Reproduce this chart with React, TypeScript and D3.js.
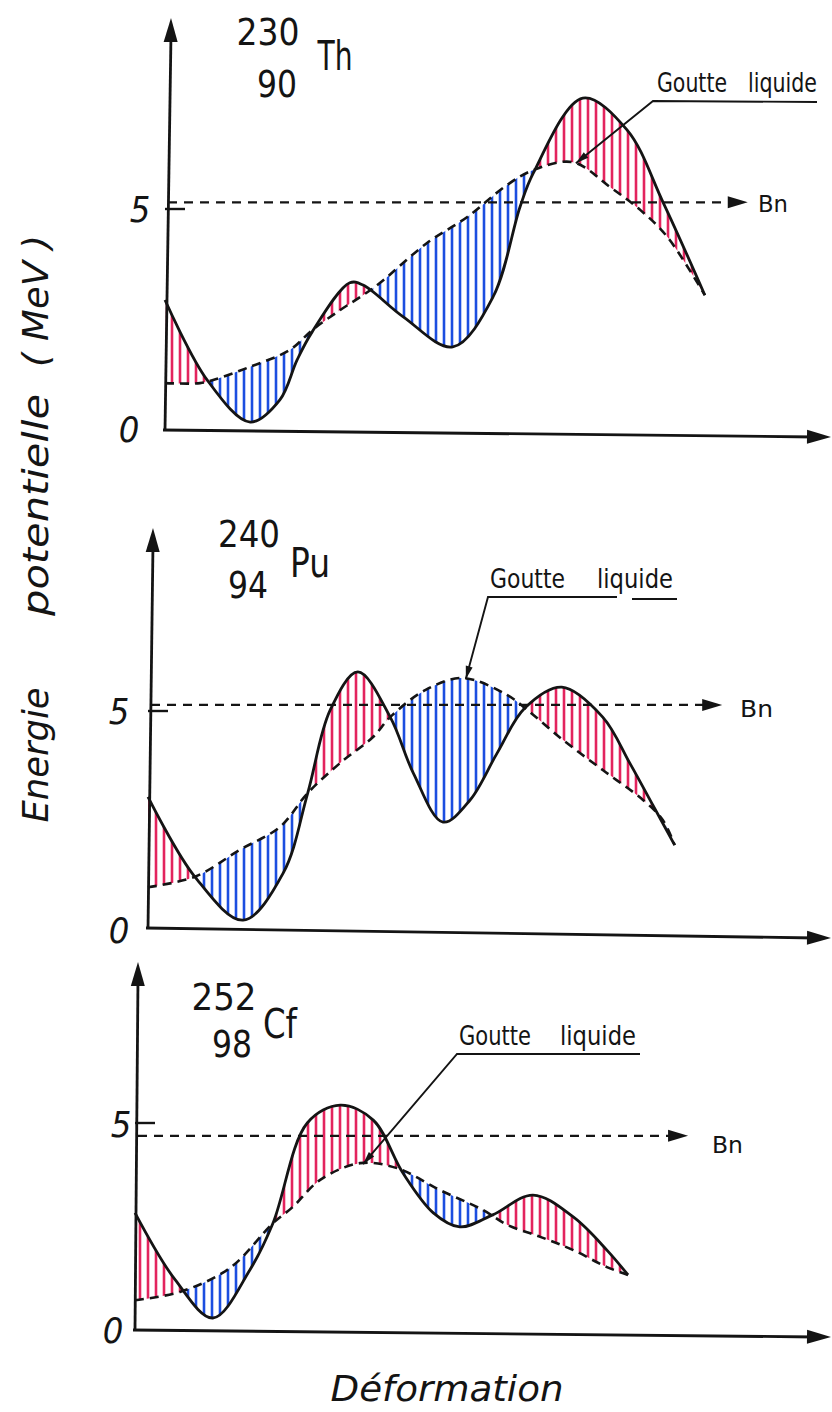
import * as d3 from 'd3';

// ---- data (deformation in arbitrary units, energy in MeV) ----

// 230/90 Th
const thShellX = [0, 0.64, 1.29, 1.74, 2.0, 2.23, 2.8, 3.0, 3.61, 4.36, 4.97, 5.38, 5.58, 6.33, 7.0, 7.55, 8.18];
const thShellE = [2.94, 1.13, 0.18, 0.68, 1.58, 2.22, 3.33, 3.28, 2.56, 1.88, 3.01, 5.05, 5.81, 7.51, 6.79, 5.14, 3.05];
const thDropX = [0, 0.53, 0.73, 1.29, 1.89, 2.23, 2.65, 3.0, 3.26, 3.97, 4.58, 5.18, 5.58, 6.18, 6.74, 7.2, 7.61, 8.18];
const thDropE = [1.06, 1.06, 1.13, 1.43, 1.81, 2.26, 2.71, 3.05, 3.33, 4.23, 4.82, 5.54, 5.88, 6.06, 5.5, 4.98, 4.37, 3.05];

// 240/94 Pu
const puShellX = [0, 0.71, 1.44, 2.05, 2.42, 2.76, 3.18, 3.67, 4.02, 4.47, 4.88, 5.29, 5.71, 6.27, 6.89, 7.3, 7.65, 7.98];
const puShellE = [3.02, 1.18, 0.18, 1.27, 3.11, 5.02, 5.9, 4.86, 3.57, 2.44, 2.95, 4.03, 5.07, 5.55, 4.86, 3.8, 2.83, 1.91];
const puDropX = [0, 0.71, 1.39, 2.0, 2.42, 2.91, 3.41, 3.67, 4.2, 4.77, 5.44, 5.71, 6.29, 6.89, 7.5, 7.8, 7.98];
const puDropE = [0.94, 1.18, 1.8, 2.33, 3.11, 3.8, 4.4, 4.86, 5.48, 5.76, 5.37, 5.07, 4.33, 3.64, 2.95, 2.49, 1.91];

// 252/98 Cf
const cfShellX = [0, 0.61, 1.18, 1.74, 2.09, 2.61, 3.11, 3.61, 4.06, 4.52, 4.92, 5.42, 6.03, 6.64, 7.15, 7.47];
const cfShellE = [2.83, 1.21, 0.29, 1.45, 2.58, 5.0, 5.43, 5.07, 3.79, 2.83, 2.49, 2.78, 3.26, 2.73, 1.93, 1.33];
const cfDropX = [0, 0.68, 1.44, 2.09, 2.39, 2.8, 3.41, 3.97, 4.62, 5.27, 5.64, 6.14, 6.64, 7.15, 7.47];
const cfDropE = [0.72, 0.92, 1.5, 2.58, 2.97, 3.62, 4.03, 3.91, 3.38, 2.9, 2.54, 2.25, 1.93, 1.52, 1.33];

// neutron binding energy Bn (MeV) per nucleus
const bnValues = [5.15, 5.14, 4.69];
const bnArrowEnd = [8.83, 8.7, 8.38];

const masses = ['230', '240', '252'];
const charges = ['90', '94', '98'];
const symbols = ['Th', 'Pu', 'Cf'];
const yTicks = [0, 5];

const PINK = '#e3245e';
const BLUE = '#1c4ee0';
const INK = '#141414';

// page layout of the three stacked panels (pixels)
const layouts = [
  {
    left: 165, base: 430, k: 44.2, topY: 18, rightX: 831, tilt: 7, lean: 6,
    mass: [268, 45, 63], z: [277, 97, 40], sym: [335, 70, 35],
    goutte: [[657, 92, 70], [748, 92, 69]], under: [[817, 102], [653, 101]], under2: null,
    bnLabel: [758, 212, 30], zero: [129, 442], five: [140, 222],
  },
  {
    left: 148, base: 928, k: 43.4, topY: 528, rightX: 831, tilt: 10, lean: 5,
    mass: [249, 547, 62], z: [248, 598, 40], sym: [310, 577, 40],
    goutte: [[490, 588, 75], [597, 588, 76]], under: [[617, 597], [488, 597]], under2: [[632, 599], [677, 599]],
    bnLabel: [740, 717, 33], zero: [119, 943], five: [119, 724],
  },
  {
    left: 135, base: 1330, k: 41.4, topY: 962, rightX: 831, tilt: 7, lean: 3,
    mass: [224, 1010, 65], z: [232, 1057, 40], sym: [280, 1038, 34],
    goutte: [[459, 1045, 72], [560, 1045, 76]], under: [[640, 1054], [457, 1054]], under2: null,
    bnLabel: [712, 1153, 31], zero: [113, 1343], five: [121, 1137],
  },
];

const series = [
  { shellX: thShellX, shellE: thShellE, dropX: thDropX, dropE: thDropE },
  { shellX: puShellX, shellE: puShellE, dropX: puDropX, dropE: puDropE },
  { shellX: cfShellX, shellE: cfShellE, dropX: cfDropX, dropE: cfDropE },
];

const arrowHead = (tx: number, ty: number, fx: number, fy: number, len: number, half: number) => {
  const dx = tx - fx;
  const dy = ty - fy;
  const n = Math.hypot(dx, dy) || 1;
  const ux = dx / n;
  const uy = dy / n;
  const bx = tx - ux * len;
  const by = ty - uy * len;
  return `M${tx},${ty}L${bx - uy * half},${by + ux * half}L${bx + uy * half},${by - ux * half}Z`;
};

const Panel = ({ i }: { i: number }) => {
  const L = layouts[i];
  const s = series[i];
  const x = d3.scaleLinear().domain([0, 10]).range([L.left, L.left + 660]);
  const y = d3.scaleLinear().domain([0, 5]).range([L.base, L.base - 5 * L.k]);

  const line = d3
    .line<[number, number]>()
    .x((d) => x(d[0]))
    .y((d) => y(d[1]))
    .curve(d3.curveCatmullRom.alpha(0.5));

  const shell: [number, number][] = s.shellX.map((v, j) => [v, s.shellE[j]]);
  const drop: [number, number][] = s.dropX.map((v, j) => [v, s.dropE[j]]);
  const shellPath = line(shell) || '';
  const dropPath = line(drop) || '';

  const x0 = x(shell[0][0]);
  const x1 = x(shell[shell.length - 1][0]);
  const top = L.topY;
  const bottom = L.base + 20;
  const close = (p: string, yy: number) => `${p}L${x1},${yy}L${x0},${yy}Z`;

  // leader arrow of "Goutte liquide" points at the liquid-drop maximum
  const peakIdx = d3.maxIndex(s.dropE);
  const tip: [number, number] = [x(s.dropX[peakIdx]) + 3, y(s.dropE[peakIdx]) + 1];
  const [ux, uy] = L.under[1];

  const axTopX = L.left + L.lean;
  const axEndY = L.base + L.tilt;
  const bnY = y(bnValues[i]);
  const bnEndX = x(bnArrowEnd[i]);

  return (
    <g>
      <defs>
        <clipPath id={`above-drop-${i}`}>
          <path d={close(dropPath, top)} />
        </clipPath>
        <clipPath id={`below-drop-${i}`}>
          <path d={close(dropPath, bottom)} />
        </clipPath>
      </defs>

      {/* hatched differences: shell correction positive (pink) / negative (blue) */}
      <path d={close(shellPath, bottom)} fill="url(#hatch-pink)" clipPath={`url(#above-drop-${i})`} />
      <path d={close(shellPath, top)} fill="url(#hatch-blue)" clipPath={`url(#below-drop-${i})`} />

      {/* liquid drop (dashed) and total potential (solid) */}
      <path d={dropPath} fill="none" stroke={INK} strokeWidth={2.6} strokeDasharray="9 6" />
      <path d={shellPath} fill="none" stroke={INK} strokeWidth={2.8} />

      {/* Bn level */}
      <line x1={L.left + 3} y1={bnY} x2={bnEndX - 14} y2={bnY} stroke={INK} strokeWidth={2.4} strokeDasharray="9 7" />
      <path d={arrowHead(bnEndX, bnY, L.left, bnY, 20, 6)} fill={INK} />
      <text x={L.bnLabel[0]} y={L.bnLabel[1]} fontSize={23} textLength={L.bnLabel[2]} lengthAdjust="spacingAndGlyphs" fill={INK}>
        Bn
      </text>

      {/* axes */}
      <line x1={L.left - 2} y1={L.base} x2={L.rightX - 16} y2={axEndY} stroke={INK} strokeWidth={2.8} />
      <path d={arrowHead(L.rightX, axEndY, L.left, L.base, 24, 7)} fill={INK} />
      <line x1={L.left} y1={L.base + 1} x2={axTopX} y2={top + 16} stroke={INK} strokeWidth={2.8} />
      <path d={arrowHead(axTopX, top, L.left, L.base, 24, 7)} fill={INK} />
      {yTicks
        .filter((t) => t > 0)
        .map((t) => (
          <line key={t} x1={L.left} y1={y(t)} x2={L.left + 20} y2={y(t)} stroke={INK} strokeWidth={2.4} />
        ))}
      <text x={L.zero[0]} y={L.zero[1]} fontSize={36} fontStyle="italic" textAnchor="middle" fill={INK}>
        {yTicks[0]}
      </text>
      <text x={L.five[0]} y={L.five[1]} fontSize={36} fontStyle="italic" textAnchor="middle" fill={INK}>
        {yTicks[1]}
      </text>

      {/* nucleus label */}
      <text x={L.mass[0]} y={L.mass[1]} fontSize={38} textAnchor="middle" textLength={L.mass[2]} lengthAdjust="spacingAndGlyphs" fill={INK}>
        {masses[i]}
      </text>
      <text x={L.z[0]} y={L.z[1]} fontSize={38} textAnchor="middle" textLength={L.z[2]} lengthAdjust="spacingAndGlyphs" fill={INK}>
        {charges[i]}
      </text>
      <text x={L.sym[0]} y={L.sym[1]} fontSize={40} textAnchor="middle" textLength={L.sym[2]} lengthAdjust="spacingAndGlyphs" fill={INK}>
        {symbols[i]}
      </text>

      {/* Goutte liquide annotation */}
      <text x={L.goutte[0][0]} y={L.goutte[0][1]} fontSize={27} textLength={L.goutte[0][2]} lengthAdjust="spacingAndGlyphs" fill={INK}>
        Goutte
      </text>
      <text x={L.goutte[1][0]} y={L.goutte[1][1]} fontSize={27} textLength={L.goutte[1][2]} lengthAdjust="spacingAndGlyphs" fill={INK}>
        liquide
      </text>
      <polyline
        points={`${L.under[0][0]},${L.under[0][1]} ${ux},${uy} ${tip[0]},${tip[1]}`}
        fill="none"
        stroke={INK}
        strokeWidth={1.9}
      />
      {L.under2 && (
        <line x1={L.under2[0][0]} y1={L.under2[0][1]} x2={L.under2[1][0]} y2={L.under2[1][1]} stroke={INK} strokeWidth={1.9} />
      )}
      <path d={arrowHead(tip[0], tip[1], ux, uy, 13, 3.5)} fill={INK} />
    </g>
  );
};

export default function App() {
  return (
    <svg
      width={832}
      height={1412}
      style={{ position: 'absolute', left: 0, top: 0, background: '#fff', fontStretch: 'condensed' }}
      fontFamily="'DejaVu Sans', 'Liberation Sans', sans-serif"
    >
      <defs>
        <pattern id="hatch-pink" patternUnits="userSpaceOnUse" width={8} height={14}>
          <line x1={4} y1={0} x2={4} y2={14} stroke={PINK} strokeWidth={2.6} />
        </pattern>
        <pattern id="hatch-blue" patternUnits="userSpaceOnUse" width={8} height={14}>
          <line x1={4} y1={0} x2={4} y2={14} stroke={BLUE} strokeWidth={2.6} />
        </pattern>
      </defs>
      <rect width={832} height={1412} fill="#fff" />

      {layouts.map((_, i) => (
        <Panel key={i} i={i} />
      ))}

      {/* axis titles */}
      <g fontStyle="italic" fill={INK} fontSize={36}>
        <text transform="translate(48,755) rotate(-90)" textAnchor="middle" textLength={135} lengthAdjust="spacingAndGlyphs">
          Energie
        </text>
        <text transform="translate(48,505) rotate(-90)" textAnchor="middle" textLength={222} lengthAdjust="spacingAndGlyphs">
          potentielle
        </text>
        <text transform="translate(48,301) rotate(-90)" textAnchor="middle" textLength={132} lengthAdjust="spacingAndGlyphs">
          ( MeV )
        </text>
        <text x={447} y={1401} textAnchor="middle" textLength={233} lengthAdjust="spacingAndGlyphs">
          Déformation
        </text>
      </g>
    </svg>
  );
}
